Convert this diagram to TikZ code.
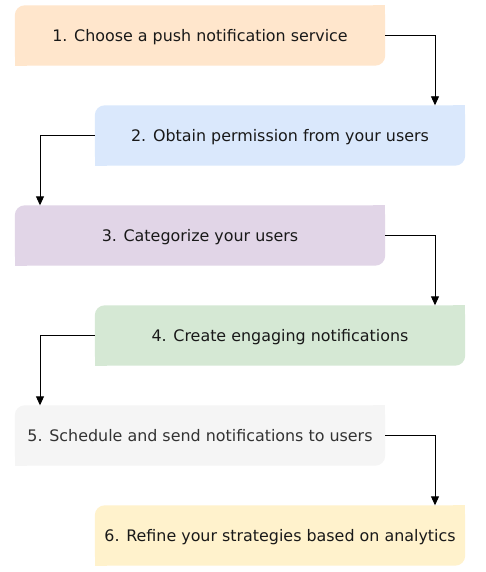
\documentclass[tikz,border=0pt]{standalone}
\usepackage{fontspec}
\setmainfont{DejaVu Sans}
\usetikzlibrary{arrows.meta,backgrounds}
\definecolor{c1}{HTML}{FFE6CC}
\definecolor{c2}{HTML}{DAE8FC}
\definecolor{c3}{HTML}{E1D5E7}
\definecolor{c4}{HTML}{D5E8D4}
\definecolor{c5}{HTML}{F5F5F5}
\definecolor{c6}{HTML}{FFF2CC}
\definecolor{t5}{HTML}{333333}
\tikzset{
  stepbox/.style={minimum width=370pt, minimum height=60pt, inner sep=0pt,
    text height=11.5pt, text depth=0pt,
    font=\fontsize{15.9}{18}\selectfont, text=black!90},
  conn/.style={line width=0.9pt, -{Triangle[length=9pt,width=8pt]}},
}
\newcommand{\boxfill}[2]{%
  \fill[#2, rounded corners=10pt] (#1.south west) rectangle (#1.north east);
  \fill[#2] (#1.north east) rectangle ([xshift=-12pt,yshift=-12pt]#1.north east);
  \fill[#2] (#1.south west) rectangle ([xshift=12pt,yshift=12pt]#1.south west);
}
\begin{document}
\begin{tikzpicture}[x=1pt,y=-1pt]
\useasboundingbox (0,0) rectangle (485,572);
\node[stepbox] (s1) at (200,35.5) {1. Choose a push notification service};
\node[stepbox] (s2) at (280,135.5) {2. Obtain permission from your users};
\node[stepbox] (s3) at (200,235.5) {3. Categorize your users};
\node[stepbox] (s4) at (280,335.5) {4. Create engaging notifications};
\node[stepbox, text=t5] (s5) at (200,435.5) {5. Schedule and send notifications to users};
\node[stepbox] (s6) at (280,535.5) {6. Refine your strategies based on analytics};
\begin{scope}[on background layer]
\fill[white] (0,0) rectangle (485,572);
\boxfill{s1}{c1}
\boxfill{s2}{c2}
\boxfill{s3}{c3}
\boxfill{s4}{c4}
\boxfill{s5}{c5}
\boxfill{s6}{c6}
\end{scope}
\coordinate (k1) at (435,35.5);
\coordinate (k2) at (40,135.5);
\coordinate (k3) at (435,235.5);
\coordinate (k4) at (40,335.5);
\coordinate (k5) at (435,435.5);
\draw[conn] (s1.east) -- (k1) -- (k1 |- s2.north);
\draw[conn] (s2.west) -- (k2) -- (k2 |- s3.north);
\draw[conn] (s3.east) -- (k3) -- (k3 |- s4.north);
\draw[conn] (s4.west) -- (k4) -- (k4 |- s5.north);
\draw[conn] (s5.east) -- (k5) -- (k5 |- s6.north);
\end{tikzpicture}
\end{document}
